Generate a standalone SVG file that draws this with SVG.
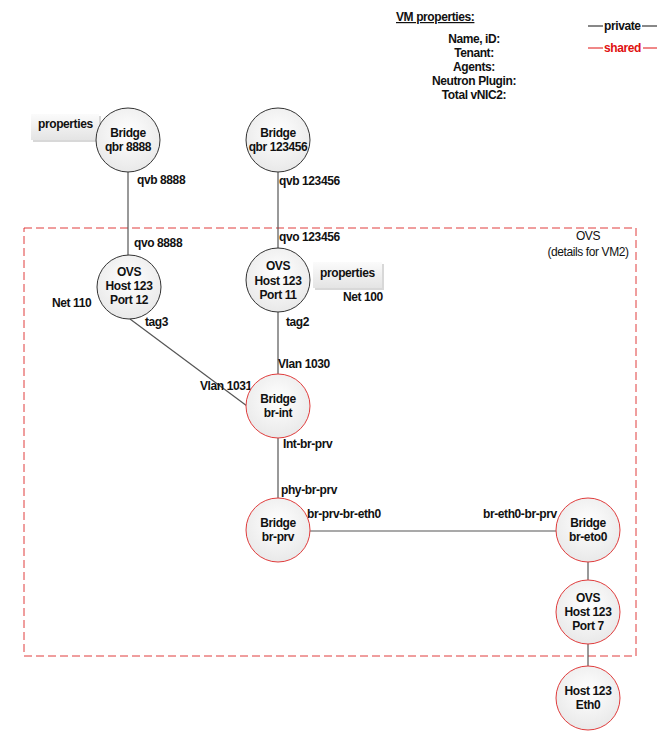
<svg xmlns="http://www.w3.org/2000/svg" width="667" height="744" viewBox="0 0 667 744">
<defs>
<radialGradient id="nodeFill" cx="50%" cy="40%" r="60%">
<stop offset="0" stop-color="#ffffff"/>
<stop offset="1" stop-color="#e9e9e9"/>
</radialGradient>
<linearGradient id="propFill" x1="0" y1="0" x2="0" y2="1">
<stop offset="0" stop-color="#fbfbfb"/>
<stop offset="1" stop-color="#e4e4e4"/>
</linearGradient>
</defs>
<style>
text{font-family:"Liberation Sans",Arial,sans-serif;font-size:12px;letter-spacing:-0.4px;font-weight:bold;fill:#111}
.c{text-anchor:middle}
.priv{fill:url(#nodeFill);stroke:#333;stroke-width:1}
.shr{fill:url(#nodeFill);stroke:#e03c3c;stroke-width:1}
.conn line{stroke:#555;stroke-width:1.2}
.prop{fill:url(#propFill);stroke:none}
.red{fill:#e01010}
</style>
<rect width="667" height="744" fill="#fff"/>

<!-- OVS container -->
<g id="ovs-container">
<rect x="24" y="228" width="612" height="428" fill="none" stroke="#e03c3c" stroke-width="1" stroke-dasharray="8,4"/>
<text class="c" x="588" y="240" style="font-weight:normal">OVS</text>
<text class="c" x="588" y="256" style="font-weight:normal">(details for VM2)</text>
</g>

<!-- legend -->
<g id="vm-properties">
<text x="396" y="21" text-decoration="underline">VM properties:</text>
<text class="c" x="474" y="43">Name, iD:</text>
<text class="c" x="474" y="57">Tenant:</text>
<text class="c" x="474" y="71">Agents:</text>
<text class="c" x="474" y="85">Neutron Plugin:</text>
<text class="c" x="474" y="99">Total vNIC2:</text>
</g>
<g id="legend">
<line x1="588" y1="26" x2="603" y2="26" stroke="#111" stroke-width="1"/>
<text x="604" y="30">private</text>
<line x1="642" y1="26" x2="657" y2="26" stroke="#111" stroke-width="1"/>
<line x1="588" y1="48" x2="603" y2="48" stroke="#e01010" stroke-width="1"/>
<text class="red" x="604" y="52">shared</text>
<line x1="643" y1="48" x2="657" y2="48" stroke="#e01010" stroke-width="1"/>
</g>

<!-- property boxes -->
<g id="props-1">
<rect x="31" y="114" width="68" height="26" fill="#d8d8d8" transform="translate(2,2)"/>
<rect class="prop" x="31" y="114" width="68" height="26"/>
<text x="38" y="128">properties</text>
</g>
<g id="props-2">
<rect x="313" y="262" width="69" height="26" fill="#d8d8d8" transform="translate(2,2)"/>
<rect class="prop" x="313" y="262" width="69" height="26"/>
<text x="320" y="277">properties</text>
</g>

<!-- connectors -->
<g id="connectors" class="conn">
<line x1="128" y1="172" x2="128" y2="255"/>
<line x1="278" y1="172" x2="278" y2="248"/>
<line x1="130" y1="319" x2="247" y2="406"/>
<line x1="278" y1="312" x2="278" y2="374"/>
<line x1="278" y1="438" x2="278" y2="498"/>
<line x1="310" y1="531" x2="556" y2="531"/>
<line x1="588" y1="562" x2="588" y2="580"/>
<line x1="588" y1="644" x2="588" y2="666"/>
</g>

<!-- connector labels -->
<g id="labels">
<text x="137" y="184">qvb 8888</text>
<text x="134" y="247">qvo 8888</text>
<text x="279" y="185">qvb 123456</text>
<text x="279" y="241">qvo 123456</text>
<text x="52" y="307">Net 110</text>
<text x="145" y="326">tag3</text>
<text x="343" y="301">Net 100</text>
<text x="286" y="326">tag2</text>
<text x="278" y="368">Vlan 1030</text>
<text x="200" y="390">Vlan 1031</text>
<text x="283" y="448">Int-br-prv</text>
<text x="281" y="494">phy-br-prv</text>
<text x="307" y="518">br-prv-br-eth0</text>
<text x="483" y="518">br-eth0-br-prv</text>
</g>

<!-- nodes -->
<g id="qbr-8888">
<circle class="priv" cx="128" cy="140" r="32"/>
<text class="c" x="128" y="137">Bridge</text>
<text class="c" x="128" y="151">qbr 8888</text>
</g>
<g id="qbr-123456">
<circle class="priv" cx="278" cy="140" r="32"/>
<text class="c" x="278" y="137">Bridge</text>
<text class="c" x="278" y="151">qbr 123456</text>
</g>
<g id="ovs-port12">
<circle class="priv" cx="129" cy="287" r="32"/>
<text class="c" x="129" y="276">OVS</text>
<text class="c" x="129" y="290">Host 123</text>
<text class="c" x="129" y="304">Port 12</text>
</g>
<g id="ovs-port11">
<circle class="priv" cx="278" cy="280" r="32"/>
<text class="c" x="278" y="270">OVS</text>
<text class="c" x="278" y="285">Host 123</text>
<text class="c" x="278" y="299">Port 11</text>
</g>
<g id="br-int">
<circle class="shr" cx="278" cy="406" r="32"/>
<text class="c" x="278" y="403">Bridge</text>
<text class="c" x="278" y="417">br-int</text>
</g>
<g id="br-prv">
<circle class="shr" cx="278" cy="530" r="32"/>
<text class="c" x="278" y="527">Bridge</text>
<text class="c" x="278" y="541">br-prv</text>
</g>
<g id="br-eto0">
<circle class="shr" cx="588" cy="530" r="32"/>
<text class="c" x="588" y="527">Bridge</text>
<text class="c" x="588" y="541">br-eto0</text>
</g>
<g id="ovs-port7">
<circle class="shr" cx="588" cy="612" r="32"/>
<text class="c" x="588" y="602">OVS</text>
<text class="c" x="588" y="616">Host 123</text>
<text class="c" x="588" y="630">Port 7</text>
</g>
<g id="host-eth0">
<circle class="shr" cx="588" cy="698" r="32"/>
<text class="c" x="588" y="695">Host 123</text>
<text class="c" x="588" y="709">Eth0</text>
</g>
</svg>
